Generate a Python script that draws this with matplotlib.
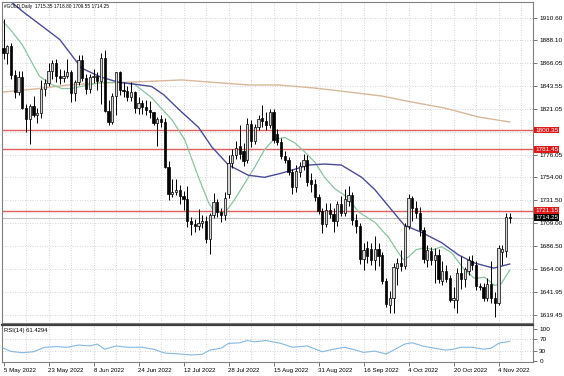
import matplotlib.pyplot as plt
from matplotlib.transforms import blended_transform_factory
import numpy as np

# daily bars, 5 May 2022 .. 9 Nov 2022
opens = [1881, 1876, 1883, 1854, 1838, 1852, 1822, 1811, 1824, 1815,
         1817, 1841, 1846, 1858, 1866, 1853, 1851, 1853, 1857, 1837,
         1847, 1869, 1851, 1841, 1852, 1853, 1848, 1871, 1819, 1808,
         1834, 1857, 1840, 1839, 1833, 1838, 1822, 1827, 1823, 1820,
         1818, 1807, 1811, 1808, 1764, 1738, 1740, 1742, 1736, 1733,
         1711, 1708, 1706, 1709, 1711, 1694, 1717, 1730, 1720, 1717,
         1738, 1768, 1776, 1785, 1780, 1771, 1806, 1790, 1803, 1812,
         1809, 1805, 1818, 1796, 1789, 1775, 1771, 1759, 1744, 1759,
         1765, 1771, 1751, 1747, 1735, 1721, 1708, 1722, 1718, 1711,
         1728, 1719, 1731, 1737, 1712, 1706, 1674, 1685, 1684, 1673,
         1684, 1678, 1652, 1629, 1636, 1665, 1670, 1667, 1706, 1734,
         1724, 1719, 1702, 1673, 1682, 1673, 1678, 1652, 1662, 1655,
         1634, 1634, 1660, 1654, 1662, 1672, 1668, 1647, 1646, 1636,
         1649, 1636, 1631, 1681, 1682, 1715.35]
highs = [1909, 1884, 1886, 1859, 1858, 1858, 1826, 1826, 1834, 1822,
         1849, 1850, 1866, 1869, 1870, 1860, 1859, 1870, 1859, 1849,
         1874, 1874, 1855, 1855, 1860, 1857, 1876, 1879, 1830, 1837,
         1857, 1858, 1847, 1843, 1847, 1839, 1833, 1830, 1830, 1829,
         1818, 1813, 1815, 1812, 1770, 1752, 1752, 1746, 1741, 1745,
         1715, 1713, 1723, 1717, 1716, 1719, 1739, 1733, 1724, 1740,
         1776, 1782, 1790, 1805, 1788, 1812, 1810, 1806, 1815, 1825,
         1818, 1821, 1821, 1801, 1793, 1780, 1774, 1762, 1766, 1769,
         1777, 1776, 1758, 1752, 1738, 1724, 1729, 1729, 1724, 1731,
         1736, 1743, 1745, 1740, 1718, 1709, 1690, 1692, 1690, 1696,
         1690, 1681, 1655, 1643, 1670, 1675, 1683, 1709, 1738, 1736,
         1731, 1725, 1705, 1688, 1686, 1685, 1684, 1672, 1668, 1658,
         1646, 1665, 1677, 1666, 1677, 1678, 1672, 1650, 1650, 1655,
         1672, 1642, 1688, 1688, 1719, 1718.80]
lows = [1870, 1865, 1850, 1832, 1835, 1821, 1798, 1787, 1813, 1807,
        1812, 1834, 1843, 1850, 1847, 1845, 1847, 1851, 1828, 1829,
        1844, 1848, 1836, 1837, 1846, 1840, 1826, 1818, 1805, 1806,
        1815, 1835, 1833, 1829, 1829, 1817, 1816, 1816, 1815, 1812,
        1805, 1785, 1803, 1763, 1732, 1735, 1737, 1728, 1722, 1705,
        1697, 1700, 1702, 1704, 1690, 1679, 1714, 1715, 1710, 1712,
        1734, 1763, 1772, 1772, 1765, 1768, 1784, 1787, 1800, 1803,
        1800, 1802, 1788, 1786, 1772, 1768, 1756, 1738, 1740, 1754,
        1761, 1745, 1740, 1731, 1718, 1699, 1705, 1714, 1700, 1706,
        1716, 1716, 1726, 1707, 1699, 1669, 1663, 1670, 1668, 1663,
        1667, 1649, 1627, 1621, 1621, 1648, 1662, 1664, 1703, 1711,
        1714, 1696, 1670, 1666, 1668, 1650, 1650, 1648, 1651, 1632,
        1626, 1621, 1645, 1646, 1658, 1663, 1644, 1644, 1633, 1633,
        1631, 1617, 1629, 1668, 1676, 1709.55]
closes = [1876, 1883, 1854, 1838, 1852, 1822, 1811, 1824, 1815, 1817,
          1841, 1846, 1858, 1866, 1853, 1851, 1853, 1857, 1837, 1847,
          1869, 1851, 1841, 1852, 1853, 1848, 1871, 1819, 1808, 1834,
          1857, 1840, 1839, 1833, 1838, 1822, 1827, 1823, 1820, 1818,
          1807, 1811, 1808, 1764, 1738, 1740, 1742, 1736, 1733, 1711,
          1708, 1706, 1709, 1711, 1694, 1717, 1730, 1720, 1717, 1734,
          1768, 1776, 1783, 1777, 1770, 1806, 1790, 1803, 1811, 1809,
          1805, 1818, 1791, 1789, 1775, 1771, 1759, 1744, 1760, 1765,
          1771, 1749, 1747, 1735, 1721, 1708, 1722, 1718, 1711, 1728,
          1719, 1733, 1737, 1712, 1706, 1674, 1683, 1677, 1673, 1684,
          1677, 1652, 1630, 1636, 1666, 1670, 1667, 1706, 1734, 1724,
          1719, 1702, 1674, 1683, 1673, 1678, 1654, 1662, 1654, 1634,
          1636, 1660, 1654, 1664, 1673, 1668, 1647, 1646, 1636, 1649,
          1636, 1631, 1685, 1684, 1715, 1714.25]

# moving averages (bar index, price)
ma_fast_bar = [0, 2, 5, 7.5, 9.6, 12.8, 15.5, 18, 22, 26, 31.5, 35, 39.5, 42, 45, 48.3,
               52, 54.7, 56.3, 59, 61.6, 64.3, 67, 69.6, 72, 75, 77.6, 80.3, 83, 85.6,
               88.3, 91.5, 94.7, 99, 102.7, 105.3, 106.7, 108, 110, 112.3, 114.7, 116.8,
               119.5, 123, 125.6, 128.3, 131, 132.8, 135]
ma_fast_val = [1906, 1898, 1884, 1867, 1853, 1845, 1841, 1841, 1844, 1847, 1847, 1845, 1832,
               1822, 1810, 1791, 1754, 1729, 1720, 1719, 1732, 1748, 1764, 1781, 1791, 1793,
               1788, 1779, 1769, 1754, 1743, 1735, 1720, 1710, 1695, 1680, 1673, 1676, 1683,
               1685, 1683, 1686, 1680, 1663, 1655, 1656, 1648, 1650, 1663]
ma_slow_bar = [0, 5.3, 15, 20.8, 26.1, 30.9, 35.5, 39.5, 42.7, 46.9, 52, 55.5, 60, 65.3,
               69.6, 74.1, 78.7, 81.3, 85.6, 90.1, 95.5, 99, 103.5, 106.9, 111.5, 116.8,
               121.3, 125.6, 130.7, 135]
ma_slow_val = [1932, 1916, 1889, 1861, 1852, 1847, 1845, 1843, 1835, 1820, 1803, 1784, 1766,
               1756, 1754, 1758, 1763, 1766, 1767, 1766, 1754, 1742, 1722, 1707, 1700, 1690,
               1678, 1670, 1665, 1669]
ma200_bar = [0, 8.3, 17.3, 26.1, 34.9, 47.5, 65.3, 73.3, 82.9, 92, 100.8, 108.8, 117.6, 126.7, 135]
ma200_val = [1837.6, 1840.5, 1844.5, 1846.4, 1847.4, 1849.4, 1844.5, 1844.5, 1841.5, 1837.6,
             1833.7, 1827.8, 1821.9, 1813.1, 1808.2]

rsi_bar = [0, 2, 5, 8, 11, 14, 17, 20, 23, 25, 27, 30, 33, 37, 40, 43, 47, 50, 53, 55, 58, 60,
           63, 65, 67, 70, 74, 77, 81, 85, 88, 91, 94, 96, 99, 102, 104, 107, 109, 112, 115,
           118, 120, 122, 125, 128, 130, 132, 133, 135]
rsi_val = [40, 30, 26, 29, 43, 45, 43, 50, 47, 53, 37, 47, 43, 43, 37, 25, 22, 19, 21, 34, 40,
           55, 57, 64, 60, 64, 55, 43, 47, 29, 37, 43, 34, 27, 31, 22, 34, 53, 57, 46, 40, 34,
           37, 43, 43, 37, 40, 55, 58, 61.43]

price_ticks = [1910.60, 1888.10, 1866.05, 1843.55, 1821.05, 1798.55, 1776.05, 1754.00,
               1731.50, 1709.00, 1686.50, 1664.00, 1641.95, 1619.45]
red_levels = [1800.35, 1781.45, 1721.15]
last_price = 1714.25
date_bars = [0, 12, 24, 36, 48, 60, 72, 84, 96, 108, 120, 132]
date_labels = ['5 May 2022', '23 May 2022', '8 Jun 2022', '24 Jun 2022', '12 Jul 2022',
               '28 Jul 2022', '15 Aug 2022', '31 Aug 2022', '16 Sep 2022', '4 Oct 2022',
               '20 Oct 2022', '4 Nov 2022']

plt.rcParams['font.family'] = ['Liberation Sans', 'DejaVu Sans']

o = np.array(opens); h = np.array(highs); l = np.array(lows); c = np.array(closes)
x = np.arange(len(c))

fig = plt.figure(figsize=(5.64, 3.76), dpi=100)
ax = fig.add_axes([2/564, 1 - 323/376, 531/564, 321/376])
ax2 = fig.add_axes([2/564, 1 - 362/376, 531/564, 37/376])
grid_col = '#c8c8c8'
fs = 4.6

for a in (ax, ax2):
    a.set_xlim(-0.4, 141.2)
    for gx in range(6, 142, 6):
        a.axvline(gx, color=grid_col, lw=0.6, ls=(0, (1, 2)), zorder=0)
    for s in a.spines.values():
        s.set_color('#808080')
        s.set_linewidth(0.8)

# main panel
ax.set_ylim(1611.2, 1925.8)
for v in price_ticks:
    ax.axhline(v, color=grid_col, lw=0.6, ls=(0, (1, 2)), zorder=0)

ax.plot(ma200_bar, ma200_val, color='#d8b898', lw=1.0, zorder=2)
ax.plot(ma_fast_bar, ma_fast_val, color='#8cc4a0', lw=0.9, zorder=2)
ax.plot(ma_slow_bar, ma_slow_val, color='#4b4b9b', lw=1.0, zorder=2)

for v in red_levels:
    ax.axhline(v, color='#e06060', lw=1.0, zorder=1.5)
ax.axhline(last_price, color='#c0c0c0', lw=0.8, zorder=1.4)

up = c >= o
bot = np.minimum(o, c)
hgt = np.maximum(np.abs(c - o), 0.9)
ax.vlines(x, l, h, color='black', lw=0.7, zorder=3)
ax.bar(x[up], hgt[up], bottom=bot[up], width=0.62, color='#d6d6d6', edgecolor='black',
       linewidth=0.5, zorder=4)
ax.bar(x[~up], hgt[~up], bottom=bot[~up], width=0.62, color='black', edgecolor='black',
       linewidth=0.5, zorder=4)

ax.yaxis.tick_right()
ax.set_yticks(price_ticks)
# the 1798.55 label sits fully under the red 1800.35 box in the reference
ax.set_yticklabels(['' if v == 1798.55 else f'{v:.2f}' for v in price_ticks])
ax.tick_params(axis='y', length=3, width=0.6, pad=1.5, labelsize=fs, color='#606060')
ax.tick_params(axis='x', bottom=False, labelbottom=False)

trans = blended_transform_factory(ax.transAxes, ax.transData)
for v in red_levels:
    ax.text(1.004, v, f'{v:.2f}', transform=trans, ha='left', va='center', fontsize=fs,
            color='white', bbox=dict(boxstyle='square,pad=0.15', fc='#e01818', ec='none'),
            zorder=10, clip_on=False)
ax.text(1.004, last_price, f'{last_price:.2f}', transform=trans, ha='left', va='center',
        fontsize=fs, color='white', bbox=dict(boxstyle='square,pad=0.15', fc='black', ec='none'),
        zorder=10, clip_on=False)

ax.text(0.003, 0.993, '#GOLD,Daily  1715.35 1718.80 1709.55 1714.25', transform=ax.transAxes,
        ha='left', va='top', fontsize=3.4, color='black')

# RSI panel
ax2.set_ylim(-3, 112.5)
for v in (30, 70):
    ax2.axhline(v, color=grid_col, lw=0.6, ls=(0, (1, 2)), zorder=0)
ax2.plot(rsi_bar, rsi_val, color='#86b8e0', lw=0.8, zorder=2)
ax2.spines['top'].set_color('#404040')
ax2.spines['top'].set_linewidth(1.6)
ax2.yaxis.tick_right()
ax2.set_yticks([0, 30, 70, 100])
ax2.set_yticklabels(['0', '30', '70', '100'])
ax2.tick_params(axis='y', length=3, width=0.6, pad=1.5, labelsize=fs, color='#606060')
ax2.set_xticks(date_bars)
ax2.set_xticklabels(date_labels, ha='left')
ax2.tick_params(axis='x', length=3, width=0.6, pad=1, labelsize=4.4, color='#606060')
ax2.text(0.003, 0.93, 'RSI(14) 61.4294', transform=ax2.transAxes, ha='left', va='top',
         fontsize=4.2, color='black')

fig.savefig('out.png', dpi=100)
